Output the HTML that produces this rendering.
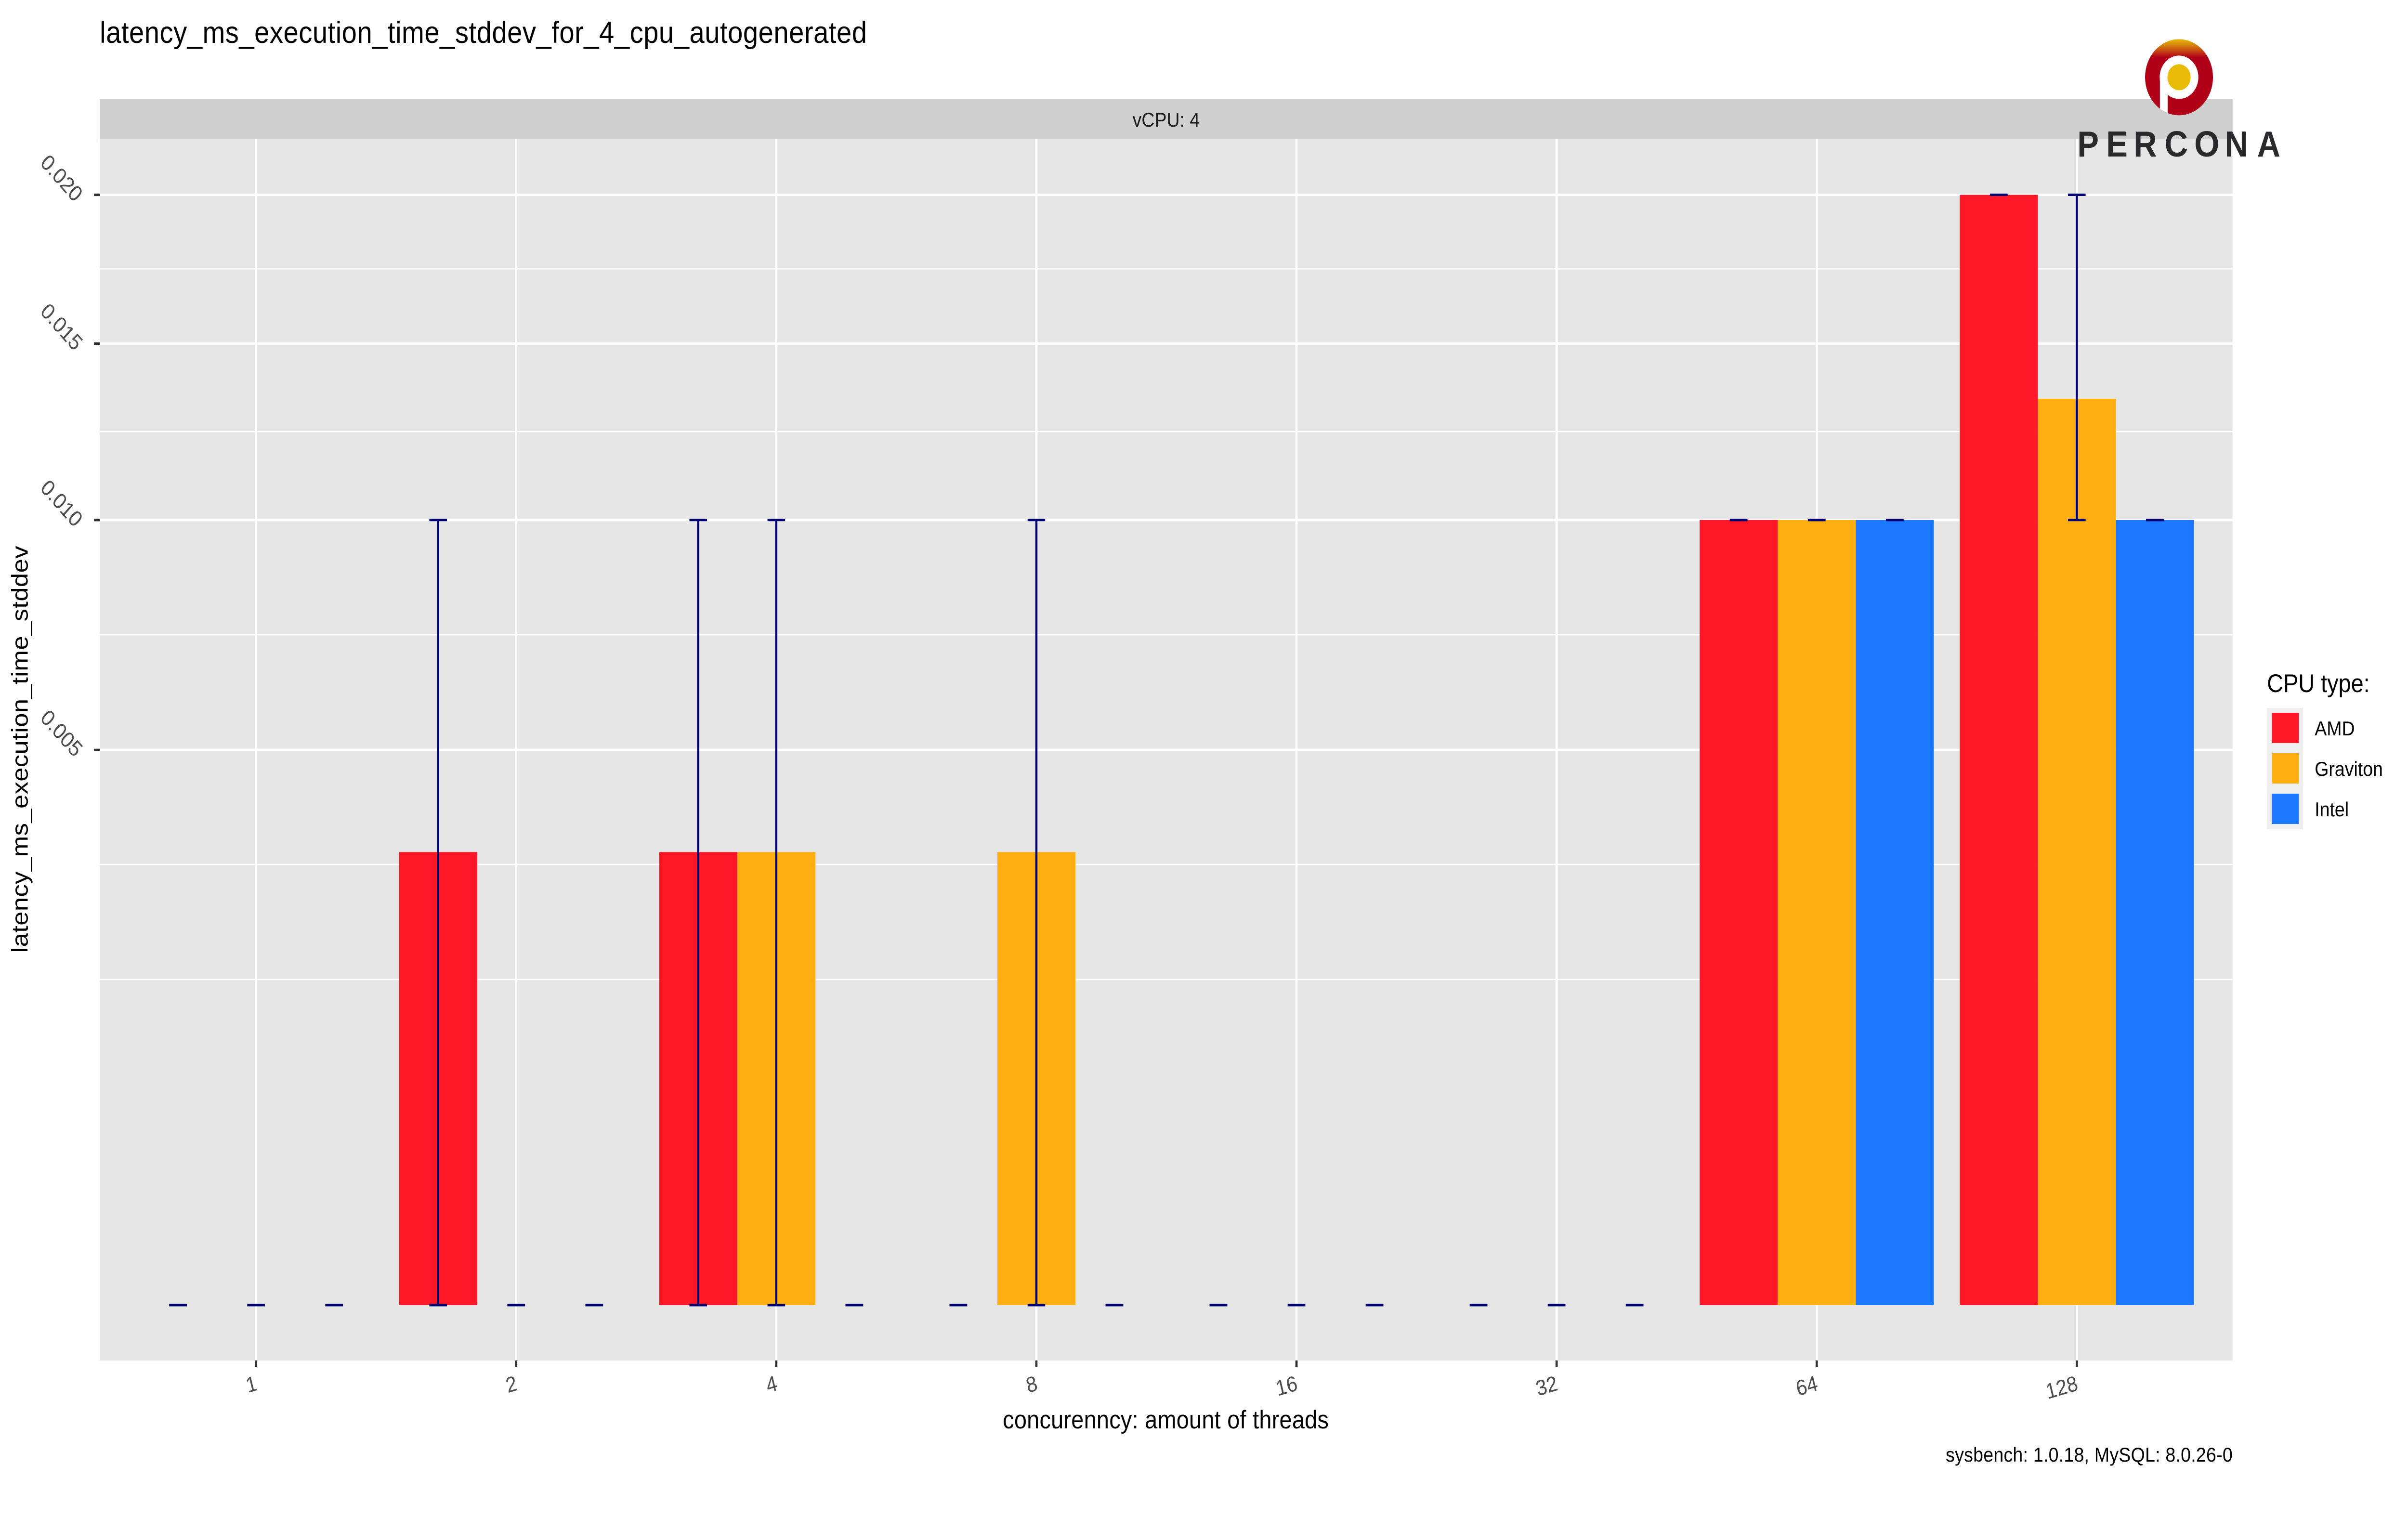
<!DOCTYPE html>
<html lang="en">
<head>
<meta charset="utf-8">
<title>latency_ms_execution_time_stddev_for_4_cpu_autogenerated</title>
<style>
html,body{margin:0;padding:0;background:#fff;width:100%;height:100%;overflow:hidden}
svg{display:block;width:100vw;height:100vh}
text{font-family:"Liberation Sans",Arial,sans-serif}
</style>
</head>
<body>
<svg id="chart" xmlns="http://www.w3.org/2000/svg" viewBox="0 0 5600 3150" preserveAspectRatio="none">
  <defs>
    <linearGradient id="logo-gradient" x1="0" y1="0" x2="0" y2="1">
      <stop offset="0" stop-color="#e8b70a"/>
      <stop offset="0.07" stop-color="#d88a0c"/>
      <stop offset="0.24" stop-color="#b00018"/>
      <stop offset="1" stop-color="#b00018"/>
    </linearGradient>
    <clipPath id="logo-clip"><circle cx="5067.5" cy="160.4" r="79"/></clipPath>
  </defs>
  <rect x="0" y="0" width="5600" height="3150" fill="#ffffff"/>
  <text x="232" y="89" font-size="63" textLength="1784" fill="#000">latency_ms_execution_time_stddev_for_4_cpu_autogenerated</text>
  <rect x="232" y="206" width="4960" height="83" fill="#cfcfcf"/>
  <text x="2712" y="263" font-size="42" text-anchor="middle" fill="#1a1a1a">vCPU: 4</text>
  <rect x="232" y="288" width="4960" height="2537" fill="#e5e5e5"/>
  <g id="grid"></g>
  <g id="bars"></g>
  <g id="errors"></g>
  <g id="yaxis"></g>
  <g id="xaxis"></g>
  <text transform="translate(64.5 1556) rotate(-90)" font-size="52.5" text-anchor="middle" textLength="845" fill="#000">latency_ms_execution_time_stddev</text>
  <text x="2711" y="2966" font-size="52.5" text-anchor="middle" textLength="758" fill="#000">concurenncy: amount of threads</text>
  <text x="5192" y="3035" font-size="42" text-anchor="end" textLength="667" fill="#000">sysbench: 1.0.18, MySQL: 8.0.26-0</text>
  <g>
    <text x="5272" y="1437" font-size="52.5" fill="#000">CPU type:</text>
    <rect x="5272" y="1470" width="84" height="252" fill="#efefef"/>
    <rect x="5283" y="1480" width="63" height="63" fill="#ff1727"/>
    <rect x="5283" y="1564" width="63" height="63" fill="#feae11"/>
    <rect x="5283" y="1648" width="63" height="63" fill="#1b78ff"/>
    <text x="5383" y="1527" font-size="42" fill="#000">AMD</text>
    <text x="5383" y="1611" font-size="42" fill="#000">Graviton</text>
    <text x="5383" y="1695" font-size="42" fill="#000">Intel</text>
  </g>
  <g>
    <circle cx="5067.5" cy="160.4" r="79" fill="url(#logo-gradient)"/>
    <circle cx="5067.5" cy="160.4" r="45" fill="#ffffff"/>
    <rect x="5023" y="160" width="18" height="90" fill="#ffffff" clip-path="url(#logo-clip)"/>
    <circle cx="5067.5" cy="160.4" r="27" fill="#e8bb06"/>
    <text x="4831 4898 4962 5034 5103 5174 5249" y="325" font-size="75" font-weight="700" fill="#2a2a2c">PERCONA</text>
  </g>
</svg>
<script>
var threadLabels = ["1", "2", "4", "8", "16", "32", "64", "128"];
var seriesNames = ["AMD", "Graviton", "Intel"];
var seriesColors = ["#ff1727", "#feae11", "#1b78ff"];
var amdMean = [0, 0.00333, 0.00333, 0, 0, 0, 0.01, 0.02];
var gravitonMean = [0, 0, 0.00333, 0.00333, 0, 0, 0.01, 0.01333];
var intelMean = [0, 0, 0, 0, 0, 0, 0.01, 0.01];
var amdLow = [0, 0, 0, 0, 0, 0, 0.01, 0.02];
var amdHigh = [0, 0.01, 0.01, 0, 0, 0, 0.01, 0.02];
var gravitonLow = [0, 0, 0, 0, 0, 0, 0.01, 0.01];
var gravitonHigh = [0, 0, 0.01, 0.01, 0, 0, 0.01, 0.02];
var intelLow = [0, 0, 0, 0, 0, 0, 0.01, 0.01];
var intelHigh = [0, 0, 0, 0, 0, 0, 0.01, 0.01];
var yTickValues = [0.005, 0.010, 0.015, 0.020];
var yTickLabels = ["0.005", "0.010", "0.015", "0.020"];
var yMinorValues = [0.00172, 0.00315, 0.00729, 0.01238, 0.01742];

var NS = "http://www.w3.org/2000/svg";
var PANEL_LEFT = 232, PANEL_RIGHT = 5192, PANEL_TOP = 288, PANEL_BOTTOM = 2825;
var Y_ZERO = 2710, Y_SCALE = 16302;
var X_FIRST = 595.5, X_STEP = 604.9, BAR_W = 181.5, CAP_W = 41;

function xCenter(i) { return X_FIRST + i * X_STEP; }
function xDodge(i, s) { return xCenter(i) + (s - 1) * BAR_W; }
function yPos(v) { return Y_ZERO - Math.sqrt(v) * Y_SCALE; }

function make(tag, parent, attrs) {
  var el = document.createElementNS(NS, tag);
  for (var k in attrs) el.setAttribute(k, attrs[k]);
  parent.appendChild(el);
  return el;
}

var grid = document.getElementById("grid");
var barsGroup = document.getElementById("bars");
var errorsGroup = document.getElementById("errors");
var yAxis = document.getElementById("yaxis");
var xAxis = document.getElementById("xaxis");

yMinorValues.forEach(function (v) {
  var el = make("line", grid, {x1: PANEL_LEFT, x2: PANEL_RIGHT, y1: yPos(v), y2: yPos(v), stroke: "#ffffff", "stroke-width": 2.6});
  
  
});
yTickValues.forEach(function (v, i) {
  var y = yPos(v);
  var el = make("line", grid, {x1: PANEL_LEFT, x2: PANEL_RIGHT, y1: y, y2: y, stroke: "#ffffff", "stroke-width": 5.2});
  
  
  var tick = make("line", yAxis, {x1: PANEL_LEFT - 13.5, x2: PANEL_LEFT, y1: y, y2: y, stroke: "#333333", "stroke-width": 5.2});
  
  
  var label = make("text", yAxis, {transform: "translate(173 " + (y + 17) + ") rotate(45)", "font-size": 46, "text-anchor": "end", fill: "#4d4d4d"});
  label.textContent = yTickLabels[i];
  
  
});
threadLabels.forEach(function (t, i) {
  var x = xCenter(i);
  var el = make("line", grid, {x1: x, x2: x, y1: PANEL_TOP, y2: PANEL_BOTTOM, stroke: "#ffffff", "stroke-width": 5.2});
  
  
  var tick = make("line", xAxis, {x1: x, x2: x, y1: PANEL_BOTTOM, y2: PANEL_BOTTOM + 13.5, stroke: "#333333", "stroke-width": 5.2});
  
  
  var label = make("text", xAxis, {transform: "translate(" + (x + 5) + " 2886) rotate(-15)", "font-size": 45, "text-anchor": "end", fill: "#4d4d4d"});
  label.textContent = t;
  
  
});

[amdMean, gravitonMean, intelMean].forEach(function (values, s) {
  values.forEach(function (v, i) {
    if (v <= 0) return;
    var bar = make("rect", barsGroup, {x: xDodge(i, s) - BAR_W / 2, y: yPos(v), width: BAR_W, height: Y_ZERO - yPos(v), fill: seriesColors[s]});
    
    
  });
});

var lows = [amdLow, gravitonLow, intelLow];
var highs = [amdHigh, gravitonHigh, intelHigh];
lows.forEach(function (lowValues, s) {
  lowValues.forEach(function (low, i) {
    var high = highs[s][i];
    var x = xDodge(i, s);
    var stem = make("line", errorsGroup, {x1: x, x2: x, y1: yPos(high), y2: yPos(low), stroke: "#000070", "stroke-width": 5});
    
    
    var capHigh = make("line", errorsGroup, {x1: x - CAP_W / 2, x2: x + CAP_W / 2, y1: yPos(high), y2: yPos(high), stroke: "#000070", "stroke-width": 5});
    
    
    var capLow = make("line", errorsGroup, {x1: x - CAP_W / 2, x2: x + CAP_W / 2, y1: yPos(low), y2: yPos(low), stroke: "#000070", "stroke-width": 5});
    
    
  });
});
</script>
</body>
</html>
